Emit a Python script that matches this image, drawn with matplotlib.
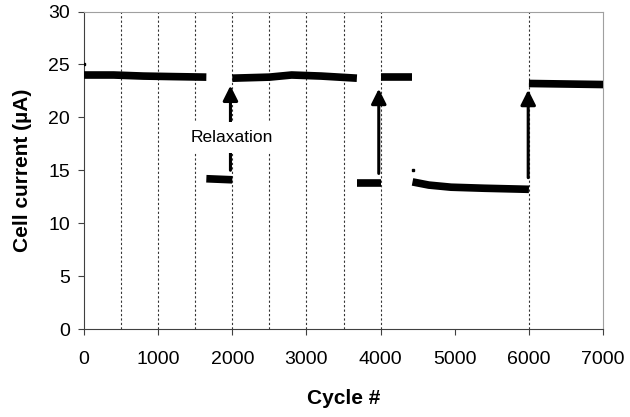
import matplotlib
matplotlib.use('Agg')
import matplotlib.pyplot as plt

plt.rcParams['font.family'] = ['Liberation Sans', 'DejaVu Sans']

# Сегменты тока ячейки (цикл, ток в мкА)
seg1_x = [0, 400, 800, 1200, 1650]
seg1_y = [24.0, 24.0, 23.9, 23.85, 23.8]
seg2_x = [1650, 2000]
seg2_y = [14.2, 14.1]
seg3_x = [2000, 2500, 2800, 3200, 3680]
seg3_y = [23.7, 23.8, 24.0, 23.9, 23.7]
seg4_x = [3680, 4000]
seg4_y = [13.8, 13.8]
seg5_x = [4000, 4420]
seg5_y = [23.8, 23.8]
seg6_x = [4430, 4650, 4950, 5400, 6000]
seg6_y = [13.9, 13.6, 13.4, 13.3, 13.2]
seg7_x = [6000, 7000]
seg7_y = [23.2, 23.1]
outlier_x = [0, 4430]
outlier_y = [25.0, 15.0]

vlines_x = [500, 1000, 1500, 2000, 2500, 3000, 3500, 4000, 6000]

# Стрелки релаксации: x, начало, конец
arrow_x = [1975, 3975, 5990]
arrow_y0 = [15.0, 14.7, 14.3]
arrow_y1 = [23.0, 22.7, 22.6]

fig = plt.figure(figsize=(6.3, 4.17), dpi=100)
ax = fig.add_axes([0.1333, 0.211, 0.824, 0.7614])

for xv in vlines_x:
    ax.axvline(xv, color='#333333', lw=0.8, linestyle=(0, (2, 2)), zorder=1)

segments = [(seg1_x, seg1_y), (seg2_x, seg2_y), (seg3_x, seg3_y), (seg4_x, seg4_y),
            (seg5_x, seg5_y), (seg6_x, seg6_y), (seg7_x, seg7_y)]
for sx, sy in segments:
    ax.plot(sx, sy, color='black', lw=5.5, solid_capstyle='butt', zorder=3)
ax.plot(outlier_x, outlier_y, 's', color='black', ms=2, ls='none', zorder=3)

for xa, y0, y1 in zip(arrow_x, arrow_y0, arrow_y1):
    ax.annotate('', xy=(xa, y1), xytext=(xa, y0),
                arrowprops=dict(arrowstyle='-|>,head_length=0.9,head_width=0.45',
                                color='black', lw=2.2, shrinkA=0, shrinkB=0),
                zorder=4)

ax.text(2000, 18.1, 'Relaxation', fontsize=12.5, ha='center', va='center',
        bbox=dict(facecolor='white', edgecolor='none', pad=6), zorder=5)

ax.set_xlim(0, 7000)
ax.set_ylim(0, 30)
ax.set_xticks(range(0, 7001, 1000))
ax.set_yticks(range(0, 31, 5))
ax.tick_params(axis='both', labelsize=14, direction='out', length=4,
               color='#404040', pad=6)
ax.tick_params(axis='x', pad=12)

ax.spines['left'].set_color('#404040')
ax.spines['bottom'].set_color('#404040')
ax.spines['top'].set_color('#a0a0a0')
ax.spines['right'].set_color('#a0a0a0')

ax.set_xlabel('Cycle #', fontsize=15, fontweight='bold', labelpad=15)
ax.set_ylabel('Cell current (µA)', fontsize=15, fontweight='bold', labelpad=12)

fig.savefig('out.png', dpi=100)
